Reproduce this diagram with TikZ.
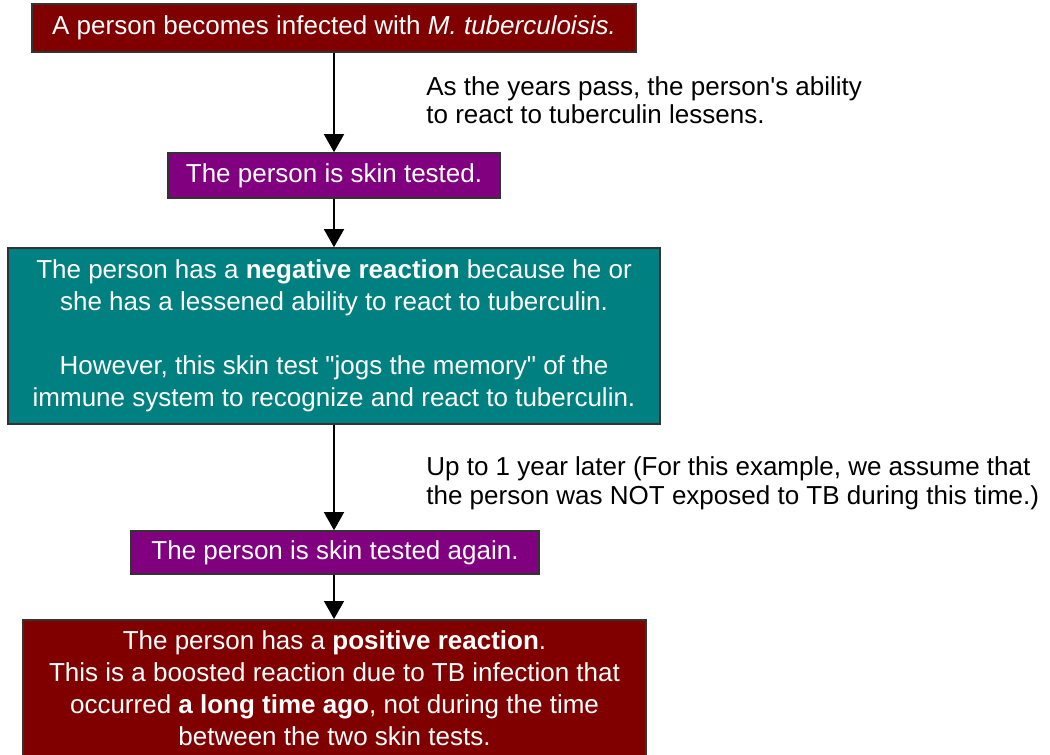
\documentclass[tikz,border=0pt]{standalone}
\usepackage{fontspec}
\setmainfont{Liberation Sans}
\usetikzlibrary{arrows.meta}
\definecolor{tbred}{HTML}{800000}
\definecolor{tbpurple}{HTML}{800080}
\definecolor{tbteal}{HTML}{008080}

\begin{document}
\begin{tikzpicture}[x=0.5pt,y=-0.5pt,every node/.style={font=\fontsize{13pt}{16pt}\selectfont},
  box/.style={draw=black!80,line width=.8pt,text=white,align=center,inner sep=0pt},
  note/.style={align=left,inner sep=0pt,anchor=west,font=\fontsize{13pt}{14pt}\selectfont},
  arr/.style={-{Triangle[width=10pt,length=9pt]},line width=.75pt}]
\useasboundingbox (0,0) rectangle (1050,755);
\node[box,fill=tbred,minimum width=302pt,minimum height=24pt] (infect) at (334,28) {A person becomes infected with \textit{M. tuberculoisis.}};
\node[box,fill=tbpurple,minimum width=166pt,minimum height=22.5pt] (test1) at (334,175.5) {The person is skin tested.};
\node[box,fill=tbteal,minimum width=326pt,minimum height=88pt] (negative) at (334,336) {The person has a \textbf{negative reaction} because he or\\ she has a lessened ability to react to tuberculin.\\[16pt] However, this skin test \textquotedbl jogs the memory\textquotedbl{} of the\\ immune system to recognize and react to tuberculin.};
\node[box,fill=tbpurple,minimum width=204pt,minimum height=21.5pt] (test2) at (335,552.5) {The person is skin tested again.};
% box runs off the bottom of the page
\node[box,fill=tbred,minimum width=311.5pt,minimum height=90pt,text depth=22pt,anchor=north] (positive) at (334.5,619) {The person has a \textbf{positive reaction}.\\ This is a boosted reaction due to TB infection that\\ occurred \textbf{a long time ago}, not during the time\\ between the two skin tests.};
\node[note] (years) at (426,100) {As the years pass, the person\textquotesingle s ability\\ to react to tuberculin lessens.};
\node[note,font=\fontsize{13pt}{14.5pt}\selectfont] (later) at (426,483) {Up to 1 year later (For this example, we assume that\\ the person was NOT exposed to TB during this time.)};
\draw[arr] (infect.south) -- (infect.south |- test1.north);
\draw[arr] (test1.south) -- (test1.south |- negative.north);
\draw[arr] (negative.south) -- (negative.south |- test2.north);
\draw[arr] (negative.south |- test2.south) -- (negative.south |- positive.north);
\end{tikzpicture}
\end{document}
